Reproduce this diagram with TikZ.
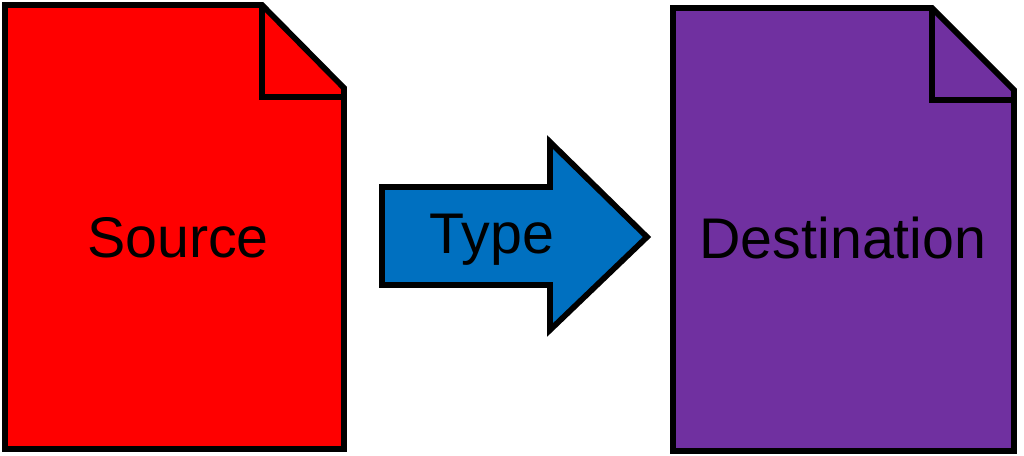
\documentclass[tikz,border=0pt]{standalone}
\usepackage{fontspec}
\setmainfont{Liberation Sans}
\begin{document}
\begin{tikzpicture}[x=0.75pt,y=-0.75pt,
    outline/.style={draw=black, line width=4.3pt, line join=miter},
    label/.style={font=\fontsize{43}{50}\selectfont, inner sep=0pt}]
  \useasboundingbox (0,0) rectangle (1024,456);

  % source page
  \draw[outline, fill={rgb,255:red,255;green,0;blue,0}]
    (5,5) -- (262,5) -- (344,88) -- (344,449) -- (5,449) -- cycle;
  \draw[outline] (262,5) -- (262,97) -- (344,97);

  % destination page
  \draw[outline, fill={rgb,255:red,112;green,48;blue,160}]
    (673,8) -- (932,8) -- (1014,90) -- (1014,451) -- (673,451) -- cycle;
  \draw[outline] (932,8) -- (932,100) -- (1014,100);

  % arrow
  \draw[outline, fill={rgb,255:red,0;green,112;blue,192}]
    (382,187) -- (550,187) -- (550,142) -- (647,237) -- (550,330)
    -- (550,285) -- (382,285) -- cycle;

  \node[label] (src) at (178,238) {Source};
  \node[label] (typ) at (492,240) {Type};
  \node[label] (dst) at (843,238) {Destination};
\end{tikzpicture}
\end{document}
